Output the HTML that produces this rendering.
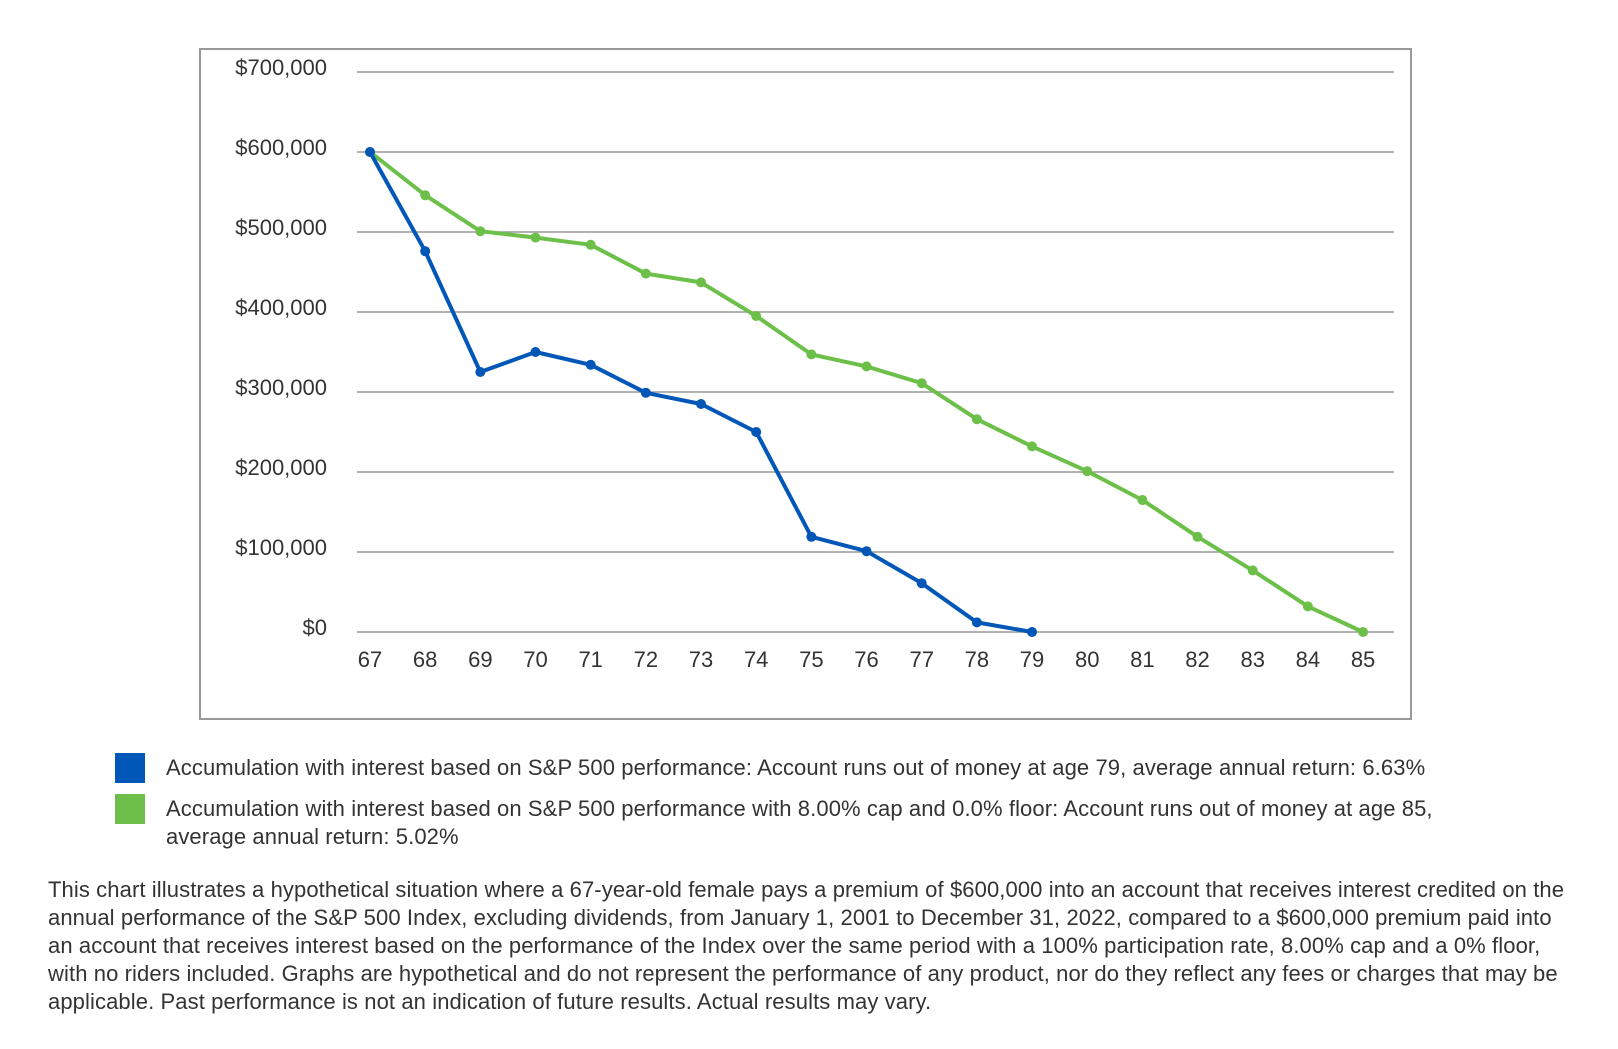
<!DOCTYPE html>
<html><head><meta charset="utf-8"><style>
body{margin:0;background:#fff;width:1618px;height:1049px;overflow:hidden;font-family:"Liberation Sans",sans-serif;color:#333}
.t{position:absolute;white-space:nowrap;font-size:22px;line-height:28px;letter-spacing:0.1px}
.sq{position:absolute;width:30px;height:30px}
</style></head><body>
<svg width="1618" height="740" style="position:absolute;left:0;top:0" font-family="Liberation Sans, sans-serif" font-size="22" fill="#333">
<rect x="200" y="49" width="1211" height="670" fill="none" stroke="#999" stroke-width="2"/>
<g stroke="#999" stroke-width="1.5">
<line x1="357" x2="1394" y1="72" y2="72"/><line x1="357" x2="1394" y1="152" y2="152"/><line x1="357" x2="1394" y1="232" y2="232"/><line x1="357" x2="1394" y1="312" y2="312"/><line x1="357" x2="1394" y1="392" y2="392"/><line x1="357" x2="1394" y1="472" y2="472"/><line x1="357" x2="1394" y1="552" y2="552"/><line x1="357" x2="1394" y1="632" y2="632"/>
</g>
<g text-anchor="end">
<text x="327" y="75">$700,000</text><text x="327" y="155">$600,000</text><text x="327" y="235">$500,000</text><text x="327" y="315">$400,000</text><text x="327" y="395">$300,000</text><text x="327" y="475">$200,000</text><text x="327" y="555">$100,000</text><text x="327" y="635">$0</text>
</g>
<g text-anchor="middle" id="xl"></g>
<polyline id="g" fill="none" stroke="#6cc04a" stroke-width="4" stroke-linejoin="round"/>
<polyline id="b" fill="none" stroke="#0057b8" stroke-width="4" stroke-linejoin="round"/>
<g id="gm" fill="#6cc04a"></g><g id="bm" fill="#0057b8"></g>
</svg>
<div class="sq" style="left:115px;top:753px;background:#0057b8"></div>
<div class="sq" style="left:115px;top:794px;background:#6cc04a"></div>
<div class="t" style="left:166px;top:754px">Accumulation with interest based on S&amp;P 500 performance: Account runs out of money at age 79, average annual return: 6.63%</div>
<div class="t" style="left:166px;top:795px">Accumulation with interest based on S&amp;P 500 performance with 8.00% cap and 0.0% floor: Account runs out of money at age 85,<br>average annual return: 5.02%</div>
<div class="t" style="left:48px;top:876px">This chart illustrates a hypothetical situation where a 67-year-old female pays a premium of $600,000 into an account that receives interest credited on the<br>annual performance of the S&amp;P 500 Index, excluding dividends, from January 1, 2001 to December 31, 2022, compared to a $600,000 premium paid into<br>an account that receives interest based on the performance of the Index over the same period with a 100% participation rate, 8.00% cap and a 0% floor,<br>with no riders included. Graphs are hypothetical and do not represent the performance of any product, nor do they reflect any fees or charges that may be<br>applicable. Past performance is not an indication of future results. Actual results may vary.</div>
<script>
var X=a=>370+(a-67)*55.17,Y=v=>632-v*0.8;
var B=[600,476,325,350,334,299,285,250,119,101,61,12,0];
var G=[600,546,501,493,484,448,437,395,347,332,311,266,232,201,165,119,77,32,0];
var ns="http://www.w3.org/2000/svg";
function ser(d,pid,mid){var p=[];d.forEach((v,i)=>{var x=X(67+i),y=Y(v);p.push(x+","+y);var c=document.createElementNS(ns,"circle");c.setAttribute("cx",x);c.setAttribute("cy",y);c.setAttribute("r",5);document.getElementById(mid).appendChild(c)});document.getElementById(pid).setAttribute("points",p.join(" "))}
ser(G,"g","gm");ser(B,"b","bm");
for(var a=67;a<=85;a++){var t=document.createElementNS(ns,"text");t.setAttribute("x",X(a));t.setAttribute("y",667);t.textContent=a;document.getElementById("xl").appendChild(t)}
</script>
</body></html>
